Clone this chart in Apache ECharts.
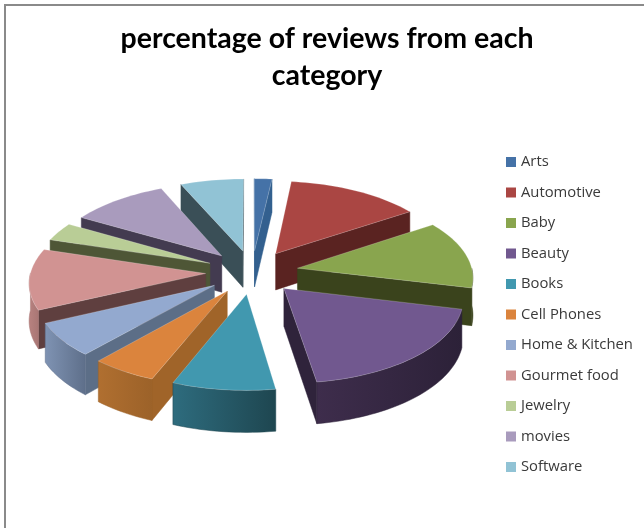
<!DOCTYPE html>
<html>
<head>
<meta charset="utf-8">
<style>
  html, body { margin: 0; padding: 0; background: #fff; }
  #chart { width: 644px; height: 528px; }
</style>
<script src="https://cdn.jsdelivr.net/npm/echarts@6/dist/echarts.min.js"></script>
</head>
<body>
<div id="chart"></div>
<script>
// Share of reviews per product category (percent).
var categories = ['Arts', 'Automotive', 'Baby', 'Beauty', 'Books', 'Cell Phones',
  'Home & Kitchen', 'Gourmet food', 'Jewelry', 'movies', 'Software'];
var shares = [1.8, 13.8, 13.2, 18.8, 8.45, 5.4, 6.55, 11.8, 3.6, 10.1, 6.5];
var topColors = ['#4572a7', '#aa4643', '#89a54e', '#71588f', '#4198af', '#db843d',
  '#93a9cf', '#d19392', '#b9cd96', '#a99bbd', '#91c3d5'];
var wallColors = ['#33608f', '#5a2321', '#3a431c', '#2f233b', '#25535f', '#a06429',
  '#5c6e87', '#5f3f3f', '#4e5636', '#433b50', '#3a4f57'];
var rimLeftColors = ['#33608f', '#7a2f2d', '#3a431c', '#3e2d4c', '#2e6c7e', '#b06f30',
  '#7f93b3', '#b88280', '#4e5636', '#433b50', '#3a4f57'];
var rimRightColors = ['#33608f', '#5a2321', '#3a431c', '#2c2138', '#1e4650', '#9c6229',
  '#5e6f8a', '#a87674', '#4e5636', '#433b50', '#3a4f57'];

// Tilted-disc projection of the exploded 3D pie.
var view = { cx: 252, cy: 272, sx: 175, sy: 82.6, k: 0.094, depth: 37, explode: 0.265 };

var total = shares.reduce(function (a, b) { return a + b; }, 0);
var startAngles = [];
shares.reduce(function (acc, v, i) {
  startAngles[i] = acc;
  return acc + v / total * Math.PI * 2;
}, 0);

function project(u, v, drop) {
  var w = 1 + view.k * v;
  return [view.cx + view.sx * u / w, view.cy - view.sy * v / w + (drop || 0) / w];
}

function renderSlice(params, api) {
  var i = params.seriesIndex;
  var a0 = startAngles[i];
  var a1 = a0 + api.value(0) / total * Math.PI * 2;
  var mid = (a0 + a1) / 2;
  var ou = view.explode * Math.sin(mid);
  var ov = view.explode * Math.cos(mid);
  var h = view.depth;

  function pt(r, a, drop) {
    return project(ou + r * Math.sin(a), ov + r * Math.cos(a), drop);
  }

  var steps = Math.max(6, Math.ceil((a1 - a0) / 0.03));
  var arc = [];
  for (var s = 0; s <= steps; s++) arc.push(a0 + (a1 - a0) * s / steps);

  var apex = pt(0, 0, 0);
  var apexLow = pt(0, 0, h);
  var children = [];

  function wall(a) {
    var outer = pt(1, a, 0);
    var midArc = pt(1, mid, 0);
    var t = (outer[0] - apex[0]) * (midArc[1] - apex[1]) - (outer[1] - apex[1]) * (midArc[0] - apex[0]);
    var facing = outer[0] >= apex[0] ? t < 0 : t > 0;
    if (!facing) return;
    children.push({
      type: 'polygon',
      shape: { points: [apex, outer, pt(1, a, h), apexLow] },
      style: { fill: wallColors[i], stroke: wallColors[i], lineWidth: 0.5 }
    });
  }
  wall(a0);
  wall(a1);

  // Outer rim, only where it faces the viewer.
  var rimTop = [];
  var rimLow = [];
  arc.forEach(function (a) {
    if (Math.cos(a) < 0.02) {
      rimTop.push(pt(1, a, 0));
      rimLow.push(pt(1, a, h));
    }
  });
  if (rimTop.length > 1) {
    children.push({
      type: 'polygon',
      shape: { points: rimTop.concat(rimLow.reverse()) },
      style: {
        fill: new echarts.graphic.LinearGradient(0, 0, 1, 0, [
          { offset: 0, color: rimLeftColors[i] },
          { offset: 1, color: rimRightColors[i] }
        ]),
        stroke: rimRightColors[i],
        lineWidth: 0.5
      }
    });
  }

  // Top face.
  var face = [apex];
  arc.forEach(function (a) { face.push(pt(1, a, 0)); });
  children.push({
    type: 'polygon',
    shape: { points: face },
    style: { fill: topColors[i], stroke: 'rgba(255,255,255,0.35)', lineWidth: 0.6 }
  });

  return { type: 'group', children: children };
}

// Paint slices from the back of the disc to the front.
var paintOrder = categories.map(function (_, i) {
  var mid = startAngles[i] + shares[i] / total * Math.PI;
  return { i: i, depth: Math.cos(mid) };
}).sort(function (a, b) { return b.depth - a.depth; });
var zLevels = [];
paintOrder.forEach(function (o, rank) { zLevels[o.i] = 2 + rank; });

var chart = echarts.init(document.getElementById('chart'), null, { renderer: 'canvas' });
chart.setOption({
  animation: false,
  backgroundColor: '#ffffff',
  color: topColors,
  title: {
    text: 'percentage of reviews from each\ncategory',
    left: 322,
    top: 15,
    textAlign: 'center',
    textStyle: {
      fontFamily: 'Lato',
      fontWeight: 'bold',
      fontSize: 28.5,
      lineHeight: 37,
      color: '#000000'
    }
  },
  legend: {
    orient: 'vertical',
    left: 501,
    top: 149,
    itemWidth: 10,
    itemHeight: 10,
    itemGap: 14.5,
    icon: 'rect',
    selectedMode: false,
    data: categories,
    textStyle: {
      fontFamily: 'Open Sans',
      fontSize: 14.8,
      lineHeight: 16,
      color: '#3a3a3a'
    }
  },
  graphic: [
    { type: 'rect', shape: { x: 4, y: 4, width: 2, height: 524 }, style: { fill: '#8a8a8a' } },
    { type: 'rect', shape: { x: 4, y: 4, width: 640, height: 2 }, style: { fill: '#8a8a8a' } }
  ],
  series: categories.map(function (name, i) {
    return {
      type: 'custom',
      name: name,
      coordinateSystem: 'none',
      z: zLevels[i],
      itemStyle: { color: topColors[i] },
      renderItem: renderSlice,
      data: [[shares[i]]]
    };
  })
});
</script>
</body>
</html>
